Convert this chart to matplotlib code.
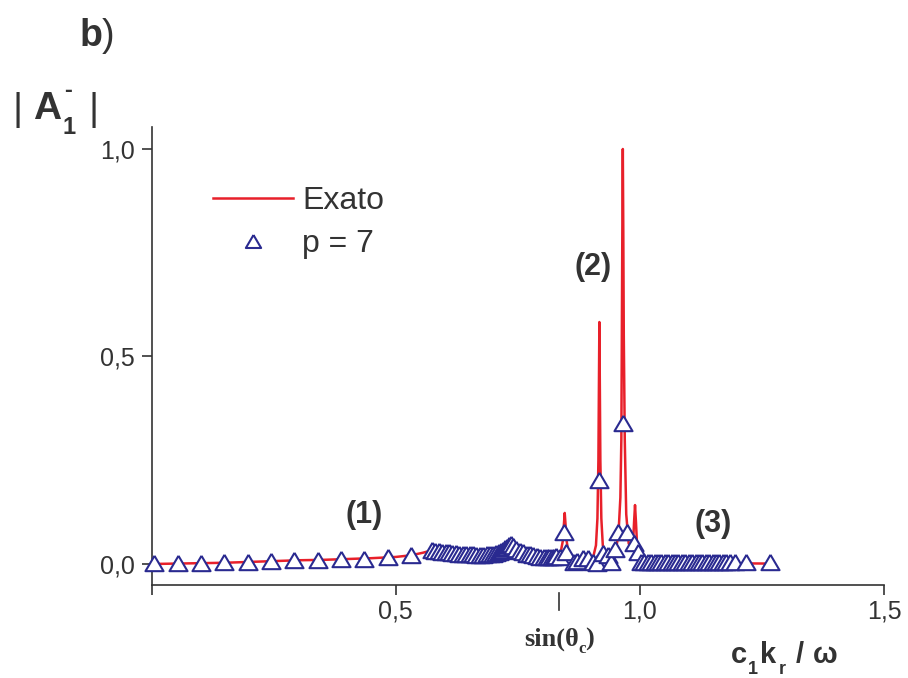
import matplotlib
matplotlib.use("Agg")
import matplotlib.pyplot as plt

plt.rcParams['font.family'] = ['Liberation Sans', 'DejaVu Sans']

# ---------------- data ----------------
exato_x = [0.000, 0.050, 0.100, 0.150, 0.200, 0.250, 0.300, 0.350, 0.400, 0.450,
           0.500, 0.531, 0.555, 0.574, 0.600, 0.630, 0.660, 0.690, 0.710, 0.725,
           0.736, 0.750, 0.770, 0.790, 0.810, 0.830, 0.838, 0.842, 0.844, 0.846,
           0.848, 0.850, 0.854, 0.860, 0.875, 0.895, 0.905, 0.910, 0.913, 0.915,
           0.916, 0.917, 0.918, 0.919, 0.921, 0.924, 0.930, 0.940, 0.950, 0.956,
           0.960, 0.962, 0.963, 0.964, 0.965, 0.966, 0.967, 0.969, 0.972, 0.977,
           0.982, 0.986, 0.988, 0.990, 0.992, 0.994, 0.997, 1.000, 1.050, 1.150, 1.270]
exato_y = [0.000, 0.001, 0.002, 0.003, 0.005, 0.007, 0.009, 0.010, 0.012, 0.014,
           0.017, 0.021, 0.027, 0.033, 0.029, 0.025, 0.022, 0.023, 0.027, 0.038,
           0.048, 0.036, 0.025, 0.019, 0.017, 0.020, 0.030, 0.055, 0.090, 0.123,
           0.090, 0.055, 0.025, 0.010, 0.007, 0.010, 0.020, 0.045, 0.110, 0.250,
           0.420, 0.583, 0.420, 0.250, 0.110, 0.045, 0.018, 0.010, 0.030, 0.070,
           0.160, 0.300, 0.550, 0.800, 1.000, 0.800, 0.550, 0.300, 0.120, 0.050,
           0.035, 0.050, 0.100, 0.142, 0.100, 0.050, 0.015, 0.005, 0.003, 0.002, 0.001]

p7_x = [0.005, 0.053, 0.101, 0.148, 0.197, 0.244, 0.292, 0.340, 0.387, 0.434, 0.483, 0.531,
        0.574, 0.581, 0.588, 0.595, 0.602, 0.609, 0.616, 0.623, 0.630, 0.637, 0.644, 0.651,
        0.658, 0.665, 0.672, 0.679, 0.686, 0.693, 0.700, 0.706, 0.711, 0.716, 0.720, 0.724,
        0.728, 0.732, 0.736, 0.741, 0.747, 0.754, 0.761, 0.768, 0.775, 0.782, 0.789, 0.796,
        0.803, 0.809, 0.814, 0.819, 0.824, 0.829,
        0.837, 0.845, 0.849, 0.864, 0.871, 0.884, 0.894, 0.904, 0.912, 0.917, 0.925, 0.935,
        0.941, 0.949, 0.955, 0.965, 0.973, 0.987, 0.997,
        1.002, 1.009, 1.016, 1.023, 1.030, 1.037, 1.044, 1.051, 1.058, 1.065, 1.072, 1.079,
        1.086, 1.093, 1.100, 1.107, 1.114, 1.121, 1.128, 1.135, 1.142, 1.149, 1.156, 1.163,
        1.170, 1.177, 1.184, 1.195, 1.218, 1.267]
p7_y = [0.002, 0.002, 0.003, 0.004, 0.006, 0.008, 0.009, 0.009, 0.011, 0.013, 0.016, 0.022,
        0.033, 0.032, 0.031, 0.030, 0.029, 0.028, 0.027, 0.026, 0.025, 0.024, 0.024, 0.023,
        0.023, 0.022, 0.022, 0.022, 0.023, 0.023, 0.024, 0.026, 0.028, 0.031, 0.034, 0.038,
        0.042, 0.046, 0.048, 0.043, 0.037, 0.032, 0.028, 0.025, 0.023, 0.021, 0.019, 0.018,
        0.017, 0.016, 0.016, 0.017, 0.018, 0.020,
        0.017, 0.076, 0.030, 0.006, 0.007, 0.014, 0.014, 0.005, 0.003, 0.202, 0.026, 0.022,
        0.006, 0.035, 0.078, 0.340, 0.078, 0.051, 0.030,
        0.005, 0.005, 0.005, 0.005, 0.005, 0.005, 0.005, 0.005, 0.005, 0.005, 0.005, 0.005,
        0.005, 0.005, 0.005, 0.005, 0.005, 0.005, 0.005, 0.005, 0.005, 0.005, 0.005, 0.005,
        0.005, 0.005, 0.005, 0.005, 0.005, 0.005]

sin_theta_c = 0.835
x_ticks = [0.0, 0.5, 1.0, 1.5]
x_ticklabels = ['', '0,5', '1,0', '1,5']
y_ticks = [0.0, 0.5, 1.0]
y_ticklabels = ['0,0', '0,5', '1,0']

# ---------------- figure ----------------
W, H = 908, 678
fig = plt.figure(figsize=(W / 100, H / 100), dpi=100)
ax = fig.add_axes([151.7 / W, 1 - 585 / H, (884 - 151.7) / W, (585 - 127) / H])

dark = '#333333'
red = '#e8202a'
navy = '#2a2a90'

tri = [(0, 0.85), (-1, -0.85), (1, -0.85), (0, 0.85)]

ax.plot(exato_x, exato_y, color=red, lw=1.8, label='Exato', zorder=2)
ax.plot(p7_x, p7_y, linestyle='none', marker=tri, ms=13, mfc='white',
        mec=navy, mew=1.5, label='p = 7', zorder=3, clip_on=False)

ax.set_xlim(0, 1.5)
ax.set_ylim(-0.0506, 1.053)

for s in ['top', 'right']:
    ax.spines[s].set_visible(False)
for s in ['left', 'bottom']:
    ax.spines[s].set_color(dark)
    ax.spines[s].set_linewidth(1.2)

ax.set_xticks(x_ticks)
ax.set_xticklabels(x_ticklabels)
ax.set_yticks(y_ticks)
ax.set_yticklabels(y_ticklabels)
ax.tick_params(axis='both', direction='out', length=7.2, width=1.2, color=dark,
               labelcolor=dark, labelsize=18)
ax.tick_params(axis='x', pad=3.0)
ax.tick_params(axis='y', pad=5.0)

# sin(theta_c) marker tick below the axis
ax.plot([sin_theta_c, sin_theta_c], [-0.0175, -0.055], color=dark, lw=1.2,
        transform=ax.get_xaxis_transform(), clip_on=False)

leg = ax.legend(loc='upper left', bbox_to_anchor=(213 / W, 1 - 186 / H),
                bbox_transform=fig.transFigure, frameon=False, fontsize=23,
                handlelength=2.5, handletextpad=0.3, labelspacing=0.42,
                borderpad=0, borderaxespad=0)
for t in leg.get_texts():
    t.set_color(dark)
leg.legend_handles[1].set_markersize(11)


def ftext(x, y, s, **kw):
    kw.setdefault('color', dark)
    fig.text(x / W, 1 - y / H, s, **kw)


# panel label
ftext(80, 46, 'b', fontsize=27, fontweight='bold', ha='left', va='baseline')
ftext(102, 46, ')', fontsize=27, ha='left', va='baseline')

# y label | A_1^- |
ftext(12, 120, '|', fontsize=28, ha='left', va='baseline')
ftext(33, 119, 'A', fontsize=28, fontweight='bold', ha='left', va='baseline')
ftext(64, 90, '-', fontsize=17, fontweight='bold', ha='left', va='center')
ftext(63, 134, '1', fontsize=17, fontweight='bold', ha='left', va='baseline')
ftext(89, 120, '|', fontsize=28, ha='left', va='baseline')

# region labels
ftext(364, 515, '(1)', fontsize=22, fontweight='bold', ha='center', va='center')
ftext(593, 267, '(2)', fontsize=22, fontweight='bold', ha='center', va='center')
ftext(713, 524, '(3)', fontsize=22, fontweight='bold', ha='center', va='center')

# sin(theta_c) label (serif bold)
serif = ['Liberation Serif', 'DejaVu Serif']
ftext(524, 646, 'sin(θ', fontsize=19, fontweight='bold', family=serif, ha='left', va='baseline')
ftext(578, 653, 'c', fontsize=12, fontweight='bold', family=serif, ha='left', va='baseline')
ftext(585, 646, ')', fontsize=19, fontweight='bold', family=serif, ha='left', va='baseline')

# x label c_1 k_r / omega
ftext(731, 663, 'c', fontsize=21, fontweight='bold', ha='left', va='baseline')
ftext(748, 674, '1', fontsize=13, fontweight='bold', ha='left', va='baseline')
ftext(760, 663, 'k', fontsize=21, fontweight='bold', ha='left', va='baseline')
ftext(779, 674, 'r', fontsize=13, fontweight='bold', ha='left', va='baseline')
ftext(796, 663, '/', fontsize=21, fontweight='bold', ha='left', va='baseline')
ftext(813, 663, 'ω', fontsize=21, fontweight='bold', ha='left', va='baseline')

fig.savefig('out.png', dpi=100)
